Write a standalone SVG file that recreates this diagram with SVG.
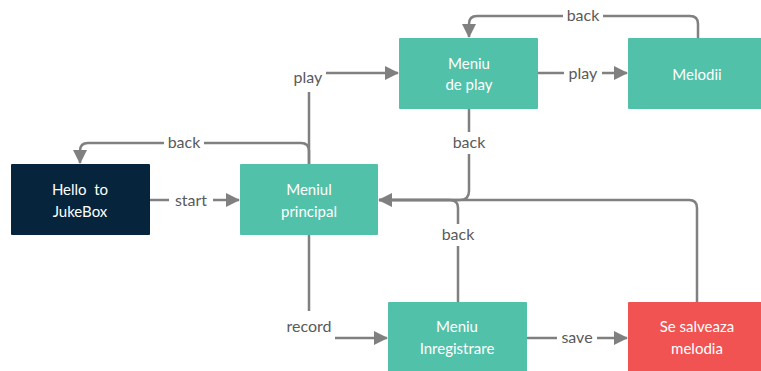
<svg xmlns="http://www.w3.org/2000/svg" width="761" height="371" viewBox="0 0 761 371">
<defs>
<style>
.node{stroke:none}
.teal{fill:#52c1aa}
.dark{fill:#06243c}
.red{fill:#f05352}
.nt{font-family:Lato,"Open Sans",sans-serif;font-size:15px;fill:#ffffff;text-anchor:middle;white-space:pre}
.edge{fill:none;stroke:#808080;stroke-width:2.5}
.lbg{fill:#ffffff}
.lt{font-family:Lato,"Open Sans",sans-serif;font-size:16px;fill:#5a5a5a;text-anchor:middle}
</style>
<marker id="arr" viewBox="0 0 14 14" refX="13" refY="7" markerWidth="14" markerHeight="14" markerUnits="userSpaceOnUse" orient="auto">
<path d="M0,0 L14,7 L0,14 z" fill="#808080"/>
</marker>
</defs>
<rect width="761" height="371" fill="#ffffff"/>
<g id="connectors">
<path class="edge" d="M150,200 H239" marker-end="url(#arr)"/>
<path class="edge" d="M309,164 V151 Q309,143 301,143 H88 Q80,143 80,151 V163" marker-end="url(#arr)"/>
<path class="edge" d="M309,164 V81 Q309,73 317,73 H398" marker-end="url(#arr)"/>
<path class="edge" d="M538,73 H627" marker-end="url(#arr)"/>
<path class="edge" d="M698,38 V24 Q698,16 690,16 H477 Q469,16 469,24 V37" marker-end="url(#arr)"/>
<path class="edge" d="M469,109 V191 Q469,200 460,200 H379" marker-end="url(#arr)"/>
<path class="edge" d="M458,302 V208 Q458,200 450,200 H379"/>
<path class="edge" d="M697,302 V208 Q697,200 689,200 H379"/>
<path class="edge" d="M309,235 V330 Q309,338 317,338 H387" marker-end="url(#arr)"/>
<path class="edge" d="M527,338 H627" marker-end="url(#arr)"/>
<rect class="lbg" x="164" y="133" width="40" height="20"/>
<text class="lt" x="184" y="148">back</text>
<rect class="lbg" x="169" y="190" width="44" height="20"/>
<text class="lt" x="191" y="206">start</text>
<rect class="lbg" x="289" y="62" width="37" height="30"/>
<text class="lt" x="308" y="83">play</text>
<rect class="lbg" x="564" y="64" width="38" height="20"/>
<text class="lt" x="583" y="79">play</text>
<rect class="lbg" x="563" y="6" width="40" height="20"/>
<text class="lt" x="583" y="21">back</text>
<rect class="lbg" x="449" y="132" width="40" height="22"/>
<text class="lt" x="469" y="148">back</text>
<rect class="lbg" x="438" y="224" width="40" height="22"/>
<text class="lt" x="458" y="240">back</text>
<rect class="lbg" x="280" y="311" width="55" height="34"/>
<text class="lt" x="309" y="332">record</text>
<rect class="lbg" x="557" y="328" width="40" height="20"/>
<text class="lt" x="577" y="343">save</text>
</g>
<g id="hello">
<rect class="node dark" x="11" y="164" width="139" height="71" rx="1"/>
<text class="nt" x="80" y="195" xml:space="preserve">Hello  to</text>
<text class="nt" x="80" y="217">JukeBox</text>
</g>
<g id="meniul-principal">
<rect class="node teal" x="240" y="164" width="138" height="71" rx="1"/>
<text class="nt" x="309" y="195">Meniul</text>
<text class="nt" x="309" y="217">principal</text>
</g>
<g id="meniu-de-play">
<rect class="node teal" x="399" y="38" width="139" height="71" rx="1"/>
<text class="nt" x="469" y="69">Meniu</text>
<text class="nt" x="469" y="90">de play</text>
</g>
<g id="melodii">
<rect class="node teal" x="628" y="38" width="139" height="71" rx="1"/>
<text class="nt" x="697" y="80">Melodii</text>
</g>
<g id="meniu-inregistrare">
<rect class="node teal" x="388" y="302" width="139" height="71" rx="1"/>
<text class="nt" x="457" y="332">Meniu</text>
<text class="nt" x="457" y="354">Inregistrare</text>
</g>
<g id="se-salveaza">
<rect class="node red" x="628" y="302" width="139" height="71" rx="1"/>
<text class="nt" x="697" y="332">Se salveaza</text>
<text class="nt" x="697" y="354">melodia</text>
</g>
</svg>
